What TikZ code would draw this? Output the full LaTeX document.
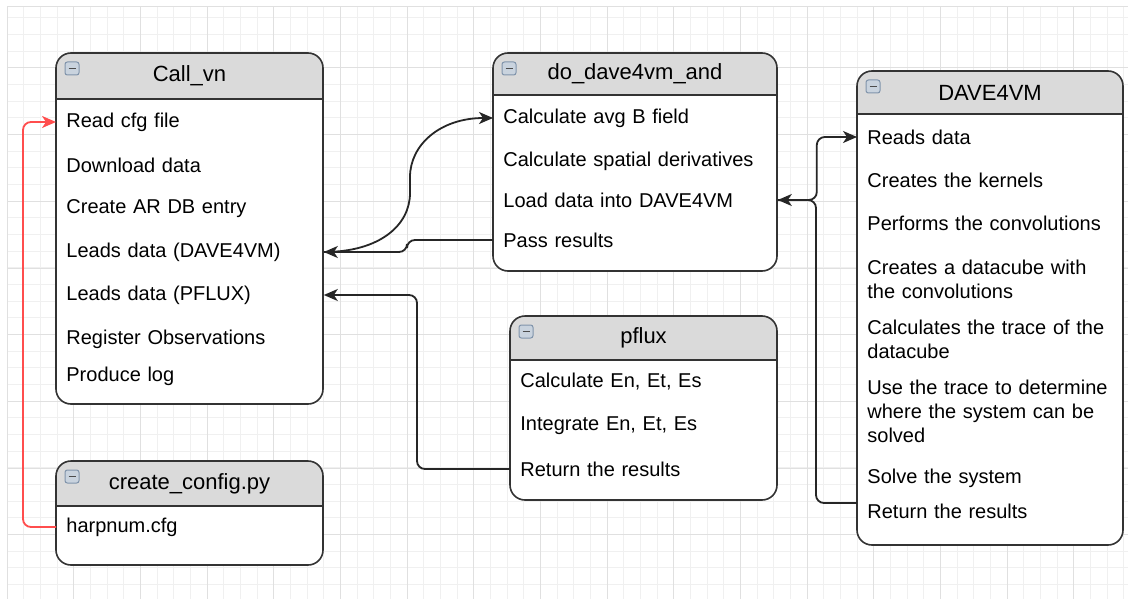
\documentclass[tikz,border=0pt]{standalone}
\usepackage{fontspec}
\setmainfont{Liberation Sans}
\usetikzlibrary{arrows.meta}

\definecolor{headgray}{HTML}{DADADA}
\definecolor{linkred}{HTML}{FF4D4D}
\definecolor{gridminor}{HTML}{F0F0F0}
\definecolor{gridmajor}{HTML}{E0E0E0}
\definecolor{iconfill}{HTML}{C9D3DE}
\definecolor{iconline}{HTML}{8094AB}

\newcommand{\classbox}[7]{%
	\fill[white, rounded corners=7.5pt] (#2,#3) rectangle (#4,#5);
	\fill[headgray] (#2,#6) {[rounded corners=7.5pt] -- (#2,#3) -- (#4,#3)} -- (#4,#6) -- cycle;
	\draw[boxline] (#2,#6) -- (#4,#6);
	\draw[boxline, rounded corners=7.5pt] (#2,#3) rectangle (#4,#5);
	\draw[iconbox] (#2+9,#3+9) rectangle (#2+23,#3+22);
	\draw[black!70, line width=0.8pt] (#2+12.5,#3+15.5) -- (#2+19.5,#3+15.5);
	\node[titletext] (#1) at ({(#2+#4)/2},{(#3+#6)/2}) {#7};
}

\begin{document}
\begin{tikzpicture}[x=0.5pt, y=-0.5pt,
	boxline/.style={draw=black!80, line width=0.8pt},
	iconbox/.style={draw=iconline, fill=iconfill, line width=0.5pt, rounded corners=1.2pt},
	titletext/.style={font=\fontsize{11}{13}\selectfont, inner sep=0pt},
	item/.style={anchor=west, inner xsep=5pt, inner ysep=0pt, align=left, text width=#1, font=\fontsize{10}{12}\selectfont},
	link/.style={draw=black!85, line width=0.9pt, rounded corners=4pt, -{Stealth[length=7pt, width=6pt, inset=2pt]}},
	redlink/.style={link, draw=linkred}]
	\useasboundingbox (0,0) rectangle (1128,599);
	\fill[white] (0,0) rectangle (1128,599);
	\foreach \gx in {0,...,67} \draw[gridminor, line width=0.5pt] ({7+16.67*\gx},7) -- ({7+16.67*\gx},599);
	\foreach \gy in {1,...,35} \draw[gridminor, line width=0.5pt] (7,{1+16.67*\gy}) -- (1128,{1+16.67*\gy});
	\foreach \gx in {0,...,16} \draw[gridmajor, line width=0.5pt] ({7+66.67*\gx},7) -- ({7+66.67*\gx},599);
	\foreach \gy in {0,...,7} \draw[gridmajor, line width=0.5pt] (7,{68+66.67*\gy}) -- (1128,{68+66.67*\gy});
	\draw[gridmajor, line width=0.5pt] (7,7) -- (1128,7);

	\classbox{cv}{56}{53}{323}{404}{99}{Call\_vn}
	\classbox{cc}{56}{461}{323}{565}{506}{create\_config.py}
	\classbox{dd}{493}{53}{777}{271}{95}{do\_dave4vm\_and}
	\classbox{dv}{857}{71}{1123}{545}{114}{DAVE4VM}
	\classbox{pf}{510}{316}{777}{500}{360}{pflux}

	\node[item=123.5pt](cvRead) at (56, 122){Read cfg file};
	\node[item=123.5pt](cvDown) at (56, 165){Download data};
	\node[item=123.5pt](cvEntry) at (56, 209){Create AR DB entry};
	\node[item=123.5pt](cvLeadsD) at (56, 252){Leads data (DAVE4VM)};
	\node[item=123.5pt](cvLeadsP) at (56, 295){Leads data (PFLUX)};
	\node[item=123.5pt](cvObs) at (56, 339){Register Observations};
	\node[item=123.5pt](cvLog) at (56, 376){Produce log};

	\node[item=123.5pt](ccHarp) at (56, 527){harpnum.cfg};

	\node[item=132pt](ddAvgB) at (493, 118){Calculate avg B field};
	\node[item=132pt](ddDeriv) at (493, 161){Calculate spatial derivatives};
	\node[item=132pt](ddLoad) at (493, 200){Load data into DAVE4VM};
	\node[item=132pt](ddPass) at (493, 240){Pass results};

	\node[item=123pt](dvReads) at (857, 137){Reads data};
	\node[item=123pt](dvKernels) at (857, 180){Creates the kernels};
	\node[item=123pt](dvConv) at (857, 223){Performs the convolutions};
	\node[item=123pt](dvCube) at (857, 279){Creates a datacube with\\the convolutions};
	\node[item=123pt](dvTrace) at (857, 339){Calculates the trace of the\\datacube};
	\node[item=123pt](dvWhere) at (857, 411){Use the trace to determine\\where the system can be\\solved};
	\node[item=123pt](dvSolve) at (857, 478){Solve the system};
	\node[item=123pt](dvReturn) at (857, 511){Return the results};

	\node[item=123.5pt](pfCalc) at (510, 382){Calculate En, Et, Es};
	\node[item=123.5pt](pfInt) at (510, 426){Integrate En, Et, Es};
	\node[item=123.5pt](pfReturn) at (510, 469){Return the results};

	\draw [redlink] (ccHarp.west) -- ++(-33,0) |- (cvRead.west);
	\draw [link] (cvLeadsD.east) .. controls (380,252) and (410,225) .. (410,185) .. controls (410,145) and (440,118) .. (ddAvgB.west);
	\draw [link] (ddPass.west) -- ++(-86,0) |- (cvLeadsD.east);
	\draw [link] (pfReturn.west) -- ++(-93,0) |- (cvLeadsP.east);
	\draw [link] ([yshift=4pt]dvReturn.west) -- ++(-41,0) |- (ddLoad.east);
	\draw [link] (ddLoad.east) -- ++(39,0) |- (dvReads.west);
\end{tikzpicture}
\end{document}
